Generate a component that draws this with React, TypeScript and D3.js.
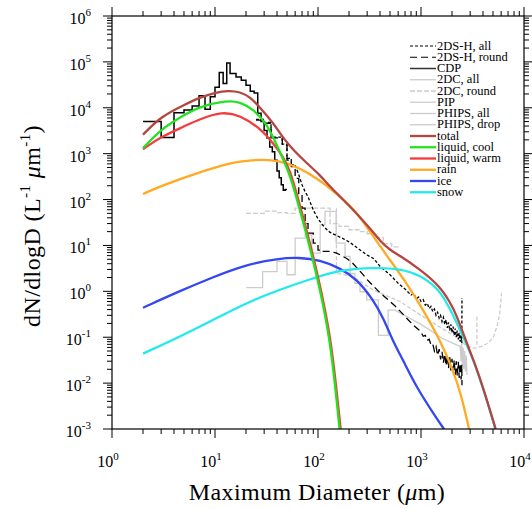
import React from "react";
import * as d3 from "d3";

type Pt = [number, number];

// ---------- axis ticks ----------
const xMajor = [1, 10, 100, 1000, 10000];
const xMajorExp = ["0", "1", "2", "3", "4"];
const yMajor = [1e-3, 1e-2, 1e-1, 1, 10, 100, 1e3, 1e4, 1e5, 1e6];
const yMajorExp = ["-3", "-2", "-1", "0", "1", "2", "3", "4", "5", "6"];

// ---------- observations ----------
// CDP histogram (bin edges in um, dN/dlogD per bin)
const cdpEdges = [2, 3, 4, 5, 6, 7, 8, 9, 10, 11, 12, 13, 14, 16, 18, 20, 22, 24, 26, 28, 30, 32, 34, 36, 38, 40, 42, 44, 46, 48, 50];
const cdpValues = [5000, 2240, 7800, 8900, 11000, 18200, 9300, 17400, 28000, 59000, 34000, 95000, 56000, 47000, 40000, 31000, 23000, 21000, 7600, 5000, 3200, 2200, 1400, 1100, 720, 420, 300, 210, 160, 165];

// 2DS-H, round (long dash): binned start then fine bins
const ds2RoundEdges = [25, 30, 35, 45, 50, 55, 60, 65, 70, 75, 80, 90, 100, 110, 130];
const ds2RoundValues = [5400, 4600, 2200, 1550, 720, 525, 290, 126, 65, 30, 18.6, 11.2, 7.9, 7.4];
const ds2RoundTail: Pt[] = [
  [130, 7.4], [150, 6.9], [165, 6.2], [190, 5.2], [215, 4.2], [240, 3.2], [270, 2.4], [300, 1.8], [350, 1.26],
  [400, 0.93], [470, 0.68], [550, 0.5], [650, 0.34], [750, 0.24], [850, 0.18], [950, 0.145], [1000, 0.13],
  [1050, 0.105], [1100, 0.11], [1150, 0.085], [1200, 0.09], [1250, 0.068], [1300, 0.072], [1350, 0.05],
  [1400, 0.062], [1450, 0.04], [1500, 0.055], [1550, 0.033], [1600, 0.048], [1650, 0.028], [1700, 0.043],
  [1750, 0.024], [1800, 0.04], [1850, 0.021], [1900, 0.037], [1950, 0.019], [2000, 0.034], [2050, 0.017],
  [2100, 0.032], [2150, 0.015], [2200, 0.03], [2250, 0.014], [2300, 0.029], [2350, 0.013], [2400, 0.027],
  [2450, 0.012], [2490, 0.025], [2500, 0.009],
];

// 2DS-H, all (short dash)
const ds2AllEdges = [25, 30, 35, 45, 50, 55, 60];
const ds2AllValues = [5600, 4800, 2300, 1620, 790, 575];
const ds2AllTail: Pt[] = [
  [60, 560], [65, 350], [70, 210], [75, 148], [80, 115], [90, 59], [100, 38], [115, 25], [130, 19.5],
  [150, 16.6], [175, 14.1], [200, 12], [250, 8.3], [300, 6.2], [350, 5.1], [400, 3.5], [500, 2.3],
  [600, 1.5], [700, 1.12], [800, 0.83], [850, 0.9], [900, 0.68], [950, 0.75], [1000, 0.6], [1050, 0.66],
  [1100, 0.5], [1150, 0.55], [1200, 0.42], [1250, 0.47], [1300, 0.36], [1350, 0.41], [1400, 0.3],
  [1450, 0.35], [1500, 0.26], [1550, 0.3], [1600, 0.22], [1650, 0.27], [1700, 0.19], [1750, 0.24],
  [1800, 0.16], [1850, 0.21], [1900, 0.14], [1950, 0.19], [2000, 0.125], [2050, 0.17], [2100, 0.11],
  [2150, 0.155], [2200, 0.1], [2250, 0.14], [2300, 0.09], [2350, 0.125], [2400, 0.08], [2450, 0.11],
  [2490, 0.075], [2500, 0.72],
];

// 2DC, all (light gray solid)
const dc2AllEdges = [20, 29, 40, 50, 60, 75, 87, 105, 117, 150, 183, 205, 228, 256, 297, 386, 480, 560];
const dc2AllValues = [1.2, 2.7, 4.5, 2.3, 14.5, 17, 6.8, 28, 55, 11.2, 5.8, 2.45, 1.5, 0.98, 0.65, 0.11, 0.39];
const dc2AllTail: Pt[] = [
  [560, 0.39], [625, 0.34], [800, 0.25], [1000, 0.19], [1300, 0.13], [1600, 0.095], [2000, 0.075],
  [2400, 0.063], [2450, 0.03], [2480, 0.08], [2520, 0.025], [2560, 0.06], [2600, 0.02], [2650, 0.05],
  [2700, 0.018], [2750, 0.04], [2800, 0.015],
];

// 2DC, round (light gray dashed)
const dc2RoundEdges = [20, 30, 40, 50, 60, 131, 160, 200, 250, 300, 350, 430, 520, 625];
const dc2RoundValues = [50, 56, 52, 50, 65, 30, 26, 22, 20, 18, 15, 11, 9.3];

// PIP / PHIPS (light gray dashed, large sizes)
const pipLine: Pt[] = [
  [151, 65], [151, 2.5], [218, 2.1], [344, 1.07], [625, 0.6], [1000, 0.3], [1500, 0.17], [2223, 0.1],
  [2760, 0.064], [3300, 0.058], [3850, 0.063], [4500, 0.075], [5040, 0.1], [5500, 0.18], [5810, 0.33], [6050, 0.91],
];
const phipsLine: Pt[] = [[3490, 0.28], [3490, 0.068]];

// ---------- fitted model curves ----------
const totalCurve: Pt[] = [
  [2, 2600], [3, 6500], [5, 11500], [7, 16500], [10, 21500], [13.5, 23800], [17.5, 22300], [22, 17000],
  [27, 10500], [37, 4600], [46, 2180], [57.5, 1200], [78, 617], [104, 347], [131, 189], [190, 83], [238, 49],
  [344, 19.5], [400, 12.6], [500, 7.9], [625, 6.0], [977, 3.0], [1530, 1.3], [2050, 0.45], [2390, 0.19],
  [2800, 0.072], [3270, 0.03], [4000, 0.0082], [5290, 0.00102],
];
const liquidCool: Pt[] = [
  [2, 1320], [3, 3470], [5, 6900], [7, 10500], [13, 14500], [17.5, 13500], [23.5, 9300], [32, 4400],
  [40, 1500], [53.5, 350], [62.5, 100], [82.7, 10], [105.7, 1], [129, 0.1], [146, 0.01], [162, 0.001],
];
const liquidWarm: Pt[] = [
  [2, 1250], [3, 2340], [5, 3900], [7, 5600], [11.7, 8300], [17.5, 6900], [27.3, 3600], [36.8, 1700],
  [46, 850], [53.5, 440], [64.5, 100], [85, 10], [108, 1], [132, 0.1], [149, 0.01], [166, 0.001],
];
const rain: Pt[] = [
  [2, 132], [3, 200], [7.15, 400], [13.9, 617], [17.5, 676], [29.2, 759], [42.8, 692], [62, 525],
  [104.5, 269], [164, 115], [238, 54], [344, 15.5], [500, 4.8], [727, 1.5], [1053, 0.39], [1528, 0.087],
  [2046, 0.0195], [2485, 0.0051], [2925, 0.001],
];
const ice: Pt[] = [
  [2, 0.44], [4.44, 0.99], [9.35, 2.0], [19.7, 3.8], [41.5, 5.2], [65, 5.5], [104.5, 4.8], [164, 3.2],
  [238, 1.86], [344, 0.65], [431, 0.26], [538, 0.079], [668, 0.032], [908, 0.0079], [1419, 0.0017], [1672, 0.001],
];
const snow: Pt[] = [
  [2, 0.044], [4.44, 0.1], [9.35, 0.23], [19.7, 0.55], [41.5, 1.07], [87.5, 1.9], [164, 2.95], [357, 3.3],
  [625, 3.1], [977, 2.29], [1528, 1.07], [1913, 0.41], [2238, 0.2], [2797, 0.067], [3272, 0.029],
  [4003, 0.0079], [5289, 0.001],
];

const legendLabels = [
  "2DS-H, all", "2DS-H, round", "CDP", "2DC, all", "2DC, round", "PIP", "PHIPS, all", "PHIPS, drop",
  "total", "liquid, cool", "liquid, warm", "rain", "ice", "snow",
];

function steps(edges: number[], values: number[]): Pt[] {
  const out: Pt[] = [];
  values.forEach((v, i) => {
    out.push([edges[i], v]);
    out.push([edges[i + 1], v]);
  });
  return out;
}

const FONT = "'Liberation Serif', 'Times New Roman', Times, serif";
const COL = {
  total: "#b5453f",
  cool: "#22e322",
  warm: "#f53c3c",
  rain: "#ffaa22",
  ice: "#3447f0",
  snow: "#22eaea",
  gray: "#cccccc",
};

export default function App() {
  const L = 112, R = 524, T = 16, B = 429;
  const x = d3.scaleLog().domain([1, 1e4]).range([L, R]);
  const y = d3.scaleLog().domain([1e-3, 1e6]).range([B, T]);
  const straight = d3.line<Pt>().x((d) => x(d[0])).y((d) => y(d[1]));
  const smooth = d3
    .line<Pt>()
    .x((d) => x(d[0]))
    .y((d) => y(d[1]))
    .curve(d3.curveBasis);

  const isMajor = (t: number) => Math.abs(Math.log10(t) - Math.round(Math.log10(t))) < 1e-9;
  const xt = x.ticks();
  const yt = y.ticks();

  const legendStyles = [
    { stroke: "#000", dash: "3,2", w: 1.2 },
    { stroke: "#000", dash: "7,4", w: 1.2 },
    { stroke: "#333", dash: undefined, w: 1.5 },
    { stroke: COL.gray, dash: undefined, w: 1.3 },
    { stroke: COL.gray, dash: "5,2", w: 1.3 },
    { stroke: COL.gray, dash: undefined, w: 1.3 },
    { stroke: COL.gray, dash: undefined, w: 1.3 },
    { stroke: COL.gray, dash: undefined, w: 1.3 },
    { stroke: COL.total, dash: undefined, w: 2.3 },
    { stroke: COL.cool, dash: undefined, w: 2.3 },
    { stroke: COL.warm, dash: undefined, w: 2.3 },
    { stroke: COL.rain, dash: undefined, w: 2.3 },
    { stroke: COL.ice, dash: undefined, w: 2.3 },
    { stroke: COL.snow, dash: undefined, w: 2.3 },
  ];

  const models: { data: Pt[]; color: string }[] = [
    { data: rain, color: COL.rain },
    { data: ice, color: COL.ice },
    { data: snow, color: COL.snow },
    { data: liquidWarm, color: COL.warm },
    { data: liquidCool, color: COL.cool },
    { data: totalCurve, color: COL.total },
  ];

  return (
    <svg
      width={532}
      height={509}
      style={{ position: "absolute", left: 0, top: 0, background: "#fff" }}
      fontFamily={FONT}
    >
      <defs>
        <clipPath id="plotClip">
          <rect x={L} y={T} width={R - L} height={B - T} />
        </clipPath>
      </defs>
      <rect x={0} y={0} width={532} height={509} fill="#fff" />

      <g clipPath="url(#plotClip)" fill="none">
        {/* gray observations */}
        <path d={straight([...steps(dc2AllEdges, dc2AllValues), ...dc2AllTail]) || ""} stroke={COL.gray} strokeWidth={1.3} />
        <path d={straight(steps(dc2RoundEdges, dc2RoundValues)) || ""} stroke={COL.gray} strokeWidth={1.3} strokeDasharray="5,2" />
        <path d={straight(pipLine) || ""} stroke={COL.gray} strokeWidth={1.3} strokeDasharray="4,2" />
        <path d={straight(phipsLine) || ""} stroke={COL.gray} strokeWidth={1.3} strokeDasharray="4,2" />
        {/* black observations */}
        <path d={straight([...steps(ds2RoundEdges, ds2RoundValues), ...ds2RoundTail]) || ""} stroke="#000" strokeWidth={1.3} strokeDasharray="7,4" />
        <path d={straight([...steps(ds2AllEdges, ds2AllValues), ...ds2AllTail]) || ""} stroke="#000" strokeWidth={1.3} strokeDasharray="3,2" />
        <path d={straight(steps(cdpEdges, cdpValues)) || ""} stroke="#000" strokeWidth={1.5} />
        {/* models */}
        {models.map((m, i) => (
          <path key={i} d={smooth(m.data) || ""} stroke={m.color} strokeWidth={2.3} strokeLinejoin="round" />
        ))}
      </g>

      {/* frame */}
      <rect x={L} y={T} width={R - L} height={B - T} fill="none" stroke="#000" strokeWidth={1.2} />

      {/* x ticks bottom & top */}
      {xt.map((t, i) => {
        const len = isMajor(t) ? 9 : 5;
        const px = x(t);
        return (
          <g key={"xt" + i} stroke="#000" strokeWidth={1}>
            <line x1={px} x2={px} y1={B} y2={B + len} />
            <line x1={px} x2={px} y1={T} y2={T - len} />
          </g>
        );
      })}
      {/* y ticks left & right */}
      {yt.map((t, i) => {
        const len = isMajor(t) ? 9 : 5;
        const py = y(t);
        return (
          <g key={"yt" + i} stroke="#000" strokeWidth={1}>
            <line x1={L} x2={L - len} y1={py} y2={py} />
            <line x1={R} x2={R + len} y1={py} y2={py} />
          </g>
        );
      })}

      {/* x tick labels */}
      {xMajor.map((t, i) => (
        <text key={"xl" + i} x={x(t) - 4} y={466.5} fontSize={16} textAnchor="middle" fill="#000">
          10
          <tspan fontSize={11} dy={-7}>{xMajorExp[i]}</tspan>
        </text>
      ))}
      {/* y tick labels */}
      {yMajor.map((t, i) => (
        <text key={"yl" + i} x={91} y={y(t) + 8} fontSize={16} textAnchor="end" fill="#000">
          10
          <tspan fontSize={11} dy={-8}>{yMajorExp[i]}</tspan>
        </text>
      ))}

      {/* axis titles */}
      <text x={317} y={500} fontSize={24} letterSpacing={0.4} textAnchor="middle" fill="#000">
        Maximum Diameter (<tspan fontStyle="italic">μ</tspan>m)
      </text>
      <text transform="translate(40,226) rotate(-90)" fontSize={24} letterSpacing={0.4} textAnchor="middle" fill="#000">
        dN/dlogD (L<tspan fontSize={15} dy={-10}>-1</tspan>
        <tspan dy={10}> </tspan>
        <tspan fontStyle="italic">μ</tspan>m<tspan fontSize={15} dy={-10}>-1</tspan>
        <tspan dy={10}>)</tspan>
      </text>

      {/* legend */}
      {legendLabels.map((lab, i) => {
        const cy = 45 + i * 11.25;
        const s = legendStyles[i];
        return (
          <g key={"lg" + i}>
            <line x1={410} x2={436} y1={cy + 1} y2={cy + 1} stroke={s.stroke} strokeWidth={s.w} strokeDasharray={s.dash} />
            <text x={437} y={cy + 4.5} fontSize={12.5} fill="#000">
              {lab}
            </text>
          </g>
        );
      })}
    </svg>
  );
}
